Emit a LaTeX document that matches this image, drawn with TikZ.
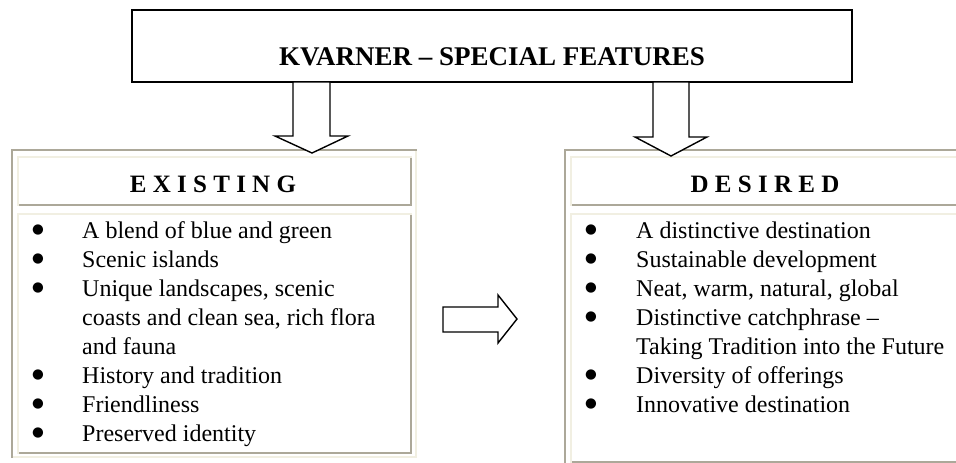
\documentclass[tikz,border=0pt]{standalone}
\usepackage{fontspec}
\setmainfont{Liberation Serif}
\newfontfamily\bulfont{DejaVu Sans}
\definecolor{bdark}{HTML}{ACA899}
\definecolor{blight}{HTML}{F1EFE2}
\begin{document}
\begin{tikzpicture}[x=1pt,y=-1pt,
  itemtext/.style={anchor=base west, inner sep=0pt, font=\fontsize{24}{24}\selectfont},
  bul/.style={anchor=center, inner sep=0pt, font=\bulfont\fontsize{13.5}{13.5}\selectfont},
  headtext/.style={anchor=base, inner sep=0pt, font=\fontsize{25}{25}\selectfont\bfseries},
  blockarrow/.style={draw=black, fill=white, line width=1.4pt, line join=miter},
  dk/.style={fill=bdark}, lt/.style={fill=blight}]
\useasboundingbox (0,0) rectangle (956,463);
\fill[white] (0,0) rectangle (956,463);

% ---------- left table ----------
\fill[dk] (11,149) rectangle (417,151);
\fill[dk] (11,149) rectangle (13,458);
\fill[lt] (415,151) rectangle (417,458);
\fill[lt] (13,456) rectangle (417,458);
% header cell
\fill[lt] (17,156) rectangle (412,158);
\fill[lt] (17,156) rectangle (19,206);
\fill[dk] (410,158) rectangle (412,206);
\fill[dk] (19,204) rectangle (412,206);
% content cell
\fill[lt] (17,213) rectangle (412,215);
\fill[lt] (17,213) rectangle (19,454);
\fill[dk] (410,215) rectangle (412,454);
\fill[dk] (19,452) rectangle (412,454);

% ---------- right table ----------
\fill[dk] (564,149) rectangle (960,151);
\fill[dk] (564,149) rectangle (566,470);
\fill[lt] (570,156) rectangle (960,158);
\fill[lt] (570,156) rectangle (572,206);
\fill[dk] (572,204) rectangle (960,206);
\fill[lt] (570,213) rectangle (960,215);
\fill[lt] (570,213) rectangle (572,463);
\fill[dk] (572,461) rectangle (960,463);

% ---------- title ----------
\node[draw=black, line width=1.6pt, minimum width=720pt, minimum height=72pt, inner sep=0pt] (title) at (492,46) {};
\node[anchor=base, inner sep=0pt, font=\fontsize{27}{27}\selectfont\bfseries] (titletext) at (492,65) {KVARNER – SPECIAL FEATURES};

% ---------- headers ----------
\node[headtext] (hexist) at (213,192) {E X I S T I N G};
\node[headtext] (hdesire) at (765,192) {D E S I R E D};

% ---------- left list ----------
\node[bul] (lb1) at (38,230) {●};
\node[itemtext] (l1) at (82,238) {A blend of blue and green};
\node[bul] (lb2) at (38,259) {●};
\node[itemtext] (l2) at (82,267) {Scenic islands};
\node[bul] (lb3) at (38,288) {●};
\node[itemtext] (l3) at (82,296) {Unique landscapes, scenic};
\node[itemtext] (l3b) at (82,325) {coasts and clean sea, rich flora};
\node[itemtext] (l3c) at (82,354) {and fauna};
\node[bul] (lb4) at (38,375) {●};
\node[itemtext] (l4) at (82,383) {History and tradition};
\node[bul] (lb5) at (38,404) {●};
\node[itemtext] (l5) at (82,412) {Friendliness};
\node[bul] (lb6) at (38,433) {●};
\node[itemtext] (l6) at (82,441) {Preserved identity};

% ---------- right list ----------
\node[bul] (rb1) at (591,230) {●};
\node[itemtext] (r1) at (636,238) {A distinctive destination};
\node[bul] (rb2) at (591,259) {●};
\node[itemtext] (r2) at (636,267) {Sustainable development};
\node[bul] (rb3) at (591,288) {●};
\node[itemtext] (r3) at (636,296) {Neat, warm, natural, global};
\node[bul] (rb4) at (591,317) {●};
\node[itemtext] (r4) at (636,325) {Distinctive catchphrase –};
\node[itemtext] (r4b) at (636,354) {Taking Tradition into the Future};
\node[bul] (rb5) at (591,375) {●};
\node[itemtext] (r5) at (636,383) {Diversity of offerings};
\node[bul] (rb6) at (591,404) {●};
\node[itemtext] (r6) at (636,412) {Innovative destination};

% ---------- block arrows ----------
\draw[blockarrow] (293,82) -- (293,136) -- (275,136) -- (312,153) -- (348,136) -- (330,136) -- (330,82) -- cycle;
\draw[blockarrow] (653,82) -- (653,137) -- (635,137) -- (671,156) -- (707,137) -- (689,137) -- (689,82) -- cycle;
\draw[blockarrow] (443,307) -- (498,307) -- (498,295) -- (517,319) -- (498,343) -- (498,332) -- (443,332) -- cycle;
\end{tikzpicture}
\end{document}
